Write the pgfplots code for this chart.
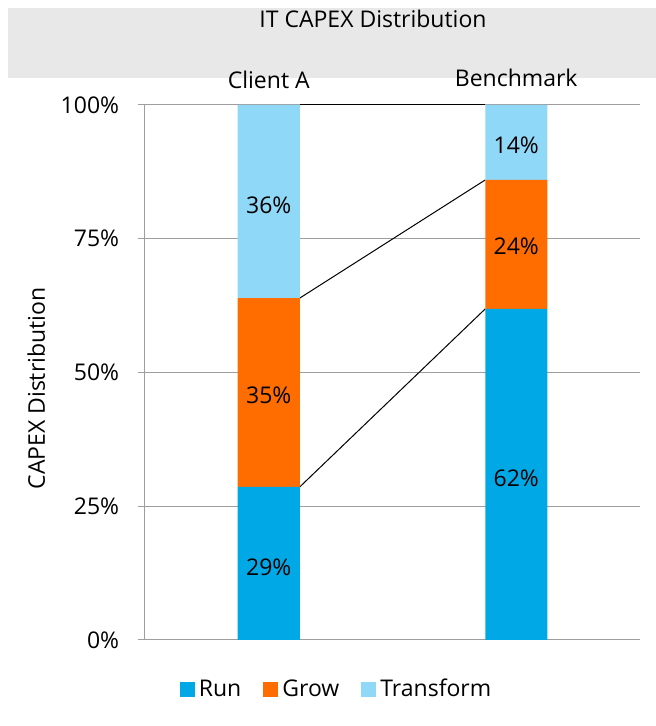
\documentclass[border=0pt]{standalone}
\usepackage{pgfplots}
\pgfplotsset{compat=1.18}
\usepackage{fontspec}
\setmainfont{Open Sans}
\definecolor{run}{HTML}{00A9E6}
\definecolor{grow}{HTML}{FF6D00}
\definecolor{transform}{HTML}{90D8F7}
\definecolor{gridc}{HTML}{9E9E9E}
\definecolor{band}{HTML}{E8E8E8}
\newcommand{\fs}{\fontsize{23}{27}\selectfont}
\begin{document}
\fs
\begin{tikzpicture}[x=1pt,y=1pt]
\path[use as bounding box] (0,0) rectangle (656,726);
\fill[band] (8,648) rectangle (656,718);
\node[anchor=base] at (373,698) {IT CAPEX Distribution};
\begin{axis}[
  at={(145pt,86pt)}, anchor=south west,
  scale only axis, width=495pt, height=535pt,
  xmin=-0.5, xmax=1.5, ymin=0, ymax=100,
  ybar stacked, bar width=62pt,
  hide x axis,
  axis y line*=left,
  y axis line style={gridc, line width=1pt},
  ytick={0,25,50,75,100},
  yticklabel={\pgfmathprintnumber{\tick}\%},
  /pgf/number format/assume math mode=true,
  ytick style={gridc, line width=1pt},
  tick align=outside, major tick length=7pt,
  ymajorgrids, grid style={gridc, line width=1pt},
  yticklabel style={xshift=-11pt},
  ylabel={CAPEX Distribution},
  every axis y label/.append style={at={(ticklabel cs:0.5)}, anchor=south, xshift=-16pt},
  tick label style={font=\fs},
  label style={font=\fs},
  legend style={font=\fs, draw=none, fill=none,
    at={(0.387,-0.093)}, anchor=center, legend columns=3,
    /tikz/every even column/.append style={column sep=20pt},
    /tikz/every odd column/.append style={column sep=2pt}},
  legend image code/.code={\fill[#1] (0pt,-7pt) rectangle (15pt,8pt);},
  clip=false,
]
\addplot+[fill=run, draw=none] coordinates {(0,28.6) (1,61.9)};
\addplot+[fill=grow, draw=none] coordinates {(0,35.3) (1,24.1)};
\addplot+[fill=transform, draw=none] coordinates {(0,36.1) (1,14.0)};
\legend{Run, Grow, Transform}
\addplot[black, line width=1pt, sharp plot, stack plots=false, forget plot] coordinates {(0.125,100) (0.875,100)};
\addplot[black, line width=1pt, sharp plot, stack plots=false, forget plot] coordinates {(0.125,63.9) (0.875,86.0)};
\addplot[black, line width=1pt, sharp plot, stack plots=false, forget plot] coordinates {(0.125,28.6) (0.875,61.9)};
\coordinate (a1) at (axis cs:0,13.6);
\coordinate (a2) at (axis cs:0,45.8);
\coordinate (a3) at (axis cs:0,81.3);
\coordinate (b1) at (axis cs:1,30.3);
\coordinate (b2) at (axis cs:1,73.5);
\coordinate (b3) at (axis cs:1,92.5);
\coordinate (ca) at (axis cs:0,100);
\coordinate (cb) at (axis cs:1,100);
\end{axis}
\node at (a1) {29\%};
\node at (a2) {35\%};
\node at (a3) {36\%};
\node at (b1) {62\%};
\node at (b2) {24\%};
\node at (b3) {14\%};
\node[anchor=base] at ([yshift=16pt]ca) {Client A};
\node[anchor=base] at ([yshift=18pt]cb) {Benchmark};
\end{tikzpicture}
\end{document}
